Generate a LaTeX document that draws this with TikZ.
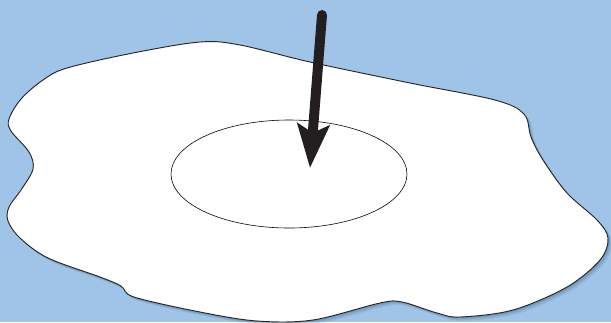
\documentclass[tikz,border=0pt]{standalone}
\usepackage{tikz}
\usetikzlibrary{positioning, calc, arrows.meta, shapes.geometric}

\definecolor{skyblue}{HTML}{9FC4E7}
\definecolor{shadowblue}{HTML}{3E5F86}
\definecolor{arrowblack}{HTML}{231F20}

% outline of the white patch
\def\blobpoints{(67,68) (133,53) (200,42) (240,45) (310,62) (410,83) (495,100) (524,114) (531,137) (543,160) (567,193) (597,220) (608,238) (600,260) (567,287) (513,310) (460,317) (437,313) (402,302) (380,303) (313,320) (257,321) (200,312) (134,297) (121,286) (100,277) (48,258) (20,238) (8,221) (9,207) (21,190) (33,169) (29,152) (11,131) (9,119) (21,99) (43,80)}

\begin{document}
\begin{tikzpicture}[x=0.03cm, y=-0.03cm]
        % Background
        \fill[skyblue] (0,0) rectangle (611,322);
        \useasboundingbox (0,0) rectangle (611,322);

        % Soft shadow
        \foreach \s/\o in {4/0.10, 3/0.12, 2/0.15, 1/0.2}
            \fill[shadowblue, opacity=\o, shift={(\s,\s)}] plot[smooth cycle, tension=0.55] coordinates {\blobpoints};

        % White patch
        \draw[draw=black!85, fill=white, line width=0.8pt] plot[smooth cycle, tension=0.55] coordinates {\blobpoints};

        % Ellipse in the middle
        \node[ellipse, draw, line width=0.5pt, minimum width=7.08cm, minimum height=3.24cm, inner sep=0pt] (spot) at (289,174) {};

        % Arrow pointing into the ellipse
        \coordinate (arrowtail) at (322,15);
        \coordinate (arrowtip) at (310,168);
        \draw[arrowblack, line width=8.5pt, line cap=round, -{Stealth[length=37pt, width=27pt, inset=7pt]}] (arrowtail) -- (arrowtip);
    \end{tikzpicture}
\end{document}
